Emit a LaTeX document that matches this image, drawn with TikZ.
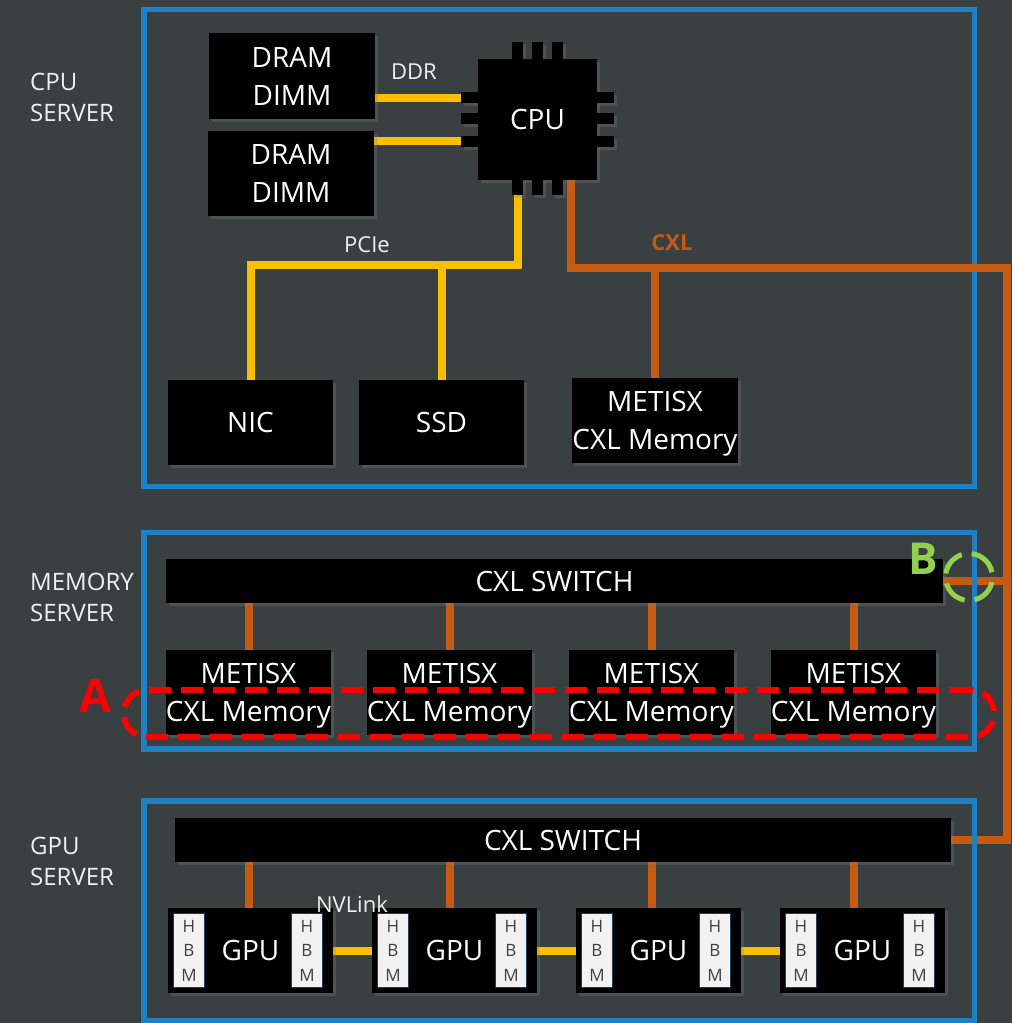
\documentclass[tikz,border=0pt]{standalone}
\usepackage{fontspec}
\setmainfont{Open Sans}
\usetikzlibrary{shadows,calc}
\pgfdeclarelayer{back}
\pgfdeclarelayer{lines}
\pgfdeclarelayer{frames}
\pgfsetlayers{back,lines,frames,main}
\definecolor{bgc}{RGB}{58,63,66}
\definecolor{frameblue}{RGB}{31,128,196}
\definecolor{ddryel}{RGB}{250,192,0}
\definecolor{cxlor}{RGB}{197,90,17}
\definecolor{bgreen}{RGB}{146,208,80}
\definecolor{hbmfill}{RGB}{242,242,242}
\definecolor{hbmedge}{RGB}{30,60,85}
\definecolor{hbmtext}{RGB}{64,64,64}
\definecolor{lbltext}{RGB}{240,240,240}
\begin{document}
\begin{tikzpicture}[x=1pt,y=-1pt,
  blk/.style={fill=black,text=white,inner sep=0,outer sep=0,align=center,
    font=\fontsize{28pt}{38pt}\selectfont,
    drop shadow={opacity=0.3,shadow xshift=3pt,shadow yshift=-3pt}},
  cpupin/.style={fill=black,drop shadow={opacity=0.3,shadow xshift=3pt,shadow yshift=-3pt}},
  cpupintop/.style={fill=black},
  srvframe/.style={draw=frameblue,line width=5.5,inner sep=0,outer sep=0,minimum width=830.5},
  hbm/.style={fill=hbmfill,draw=hbmedge,line width=1.8,minimum width=31,minimum height=74,
    inner sep=0,text=hbmtext,align=center,font=\fontsize{17pt}{24.5pt}\selectfont},
  ddr/.style={draw=ddryel,line width=8},
  cxl/.style={draw=cxlor,line width=8},
  lbl/.style={text=lbltext,font=\fontsize{24pt}{31pt}\selectfont,align=left,inner sep=0,anchor=west},
  lk/.style={text=lbltext,font=\fontsize{22pt}{26pt}\selectfont,inner sep=0},
]
\begin{pgfonlayer}{back}
\fill[bgc] (0,0) rectangle (1012,1023);
\end{pgfonlayer}
\useasboundingbox (0,0) rectangle (1012,1023);

% server frames
\begin{pgfonlayer}{back}
\node[srvframe,minimum height=477] (cpusrv) at (559.25,248) {};
\end{pgfonlayer}
\begin{pgfonlayer}{frames}
\node[srvframe,minimum height=216.5] (memsrv) at (559.25,640.75) {};
\node[srvframe,minimum height=219.5] (gpusrv) at (559.25,910.75) {};
\end{pgfonlayer}

% side labels
\node[lbl] (lcpu) at (30,97.5) {CPU\\SERVER};
\node[lbl] (lmem) at (30,597) {MEMORY\\SERVER};
\node[lbl] (lgpu) at (30,861) {GPU\\SERVER};

% CPU server contents
\node[blk,minimum width=166,minimum height=86] (d1) at (292,76) {DRAM\\DIMM};
\node[blk,minimum width=166,minimum height=85] (d2) at (291,173.5) {DRAM\\DIMM};
\foreach \x in {512,532,552} {
  \fill[cpupin] (\x,42) rectangle +(11,18);
  \fill[cpupin] (\x,179) rectangle +(11,16);
}
\foreach \y in {92,113,136} {
  \fill[cpupin] (461,\y) rectangle +(18,11);
  \fill[cpupin] (596,\y) rectangle +(18,11);
}
\node[blk,minimum width=119,minimum height=121] (cpu) at (537.5,119.5) {CPU};
\foreach \x in {512,532,552} {
  \fill[cpupintop] (\x,42) rectangle +(11,18);
  \fill[cpupintop] (\x,179) rectangle +(11,16);
}
\foreach \y in {92,113,136} {
  \fill[cpupintop] (461,\y) rectangle +(18,11);
  \fill[cpupintop] (596,\y) rectangle +(18,11);
}
\coordinate (lp1) at (461,97.5);
\coordinate (lp3) at (461,140.5);
\coordinate (bp1) at (517.5,195);
\coordinate (pj) at (517.5,265);
\coordinate (cj) at (571,267.5);
\coordinate (cr) at (1007,267.5);

\node[blk,minimum width=165,minimum height=85] (nic) at (250.5,422.5) {NIC};
\node[blk,minimum width=165,minimum height=85] (ssd) at (441.5,422.5) {SSD};
\node[blk,minimum width=166,minimum height=85] (mcpu) at (655,420.5) {METISX\\CXL Memor\smash{y}};

\node[lk] (tddr) at (414,72) {DDR};
\node[lk] (tpcie) at (367,245) {PCIe};
\node[lk,text=cxlor,font=\fontsize{22pt}{26pt}\selectfont\bfseries] (tcxl) at (672,243) {CXL};

% memory server
\node[blk,minimum width=777,minimum height=44] (msw) at (554.5,581) {CXL SWITCH};
\foreach \i/\x in {1/248.5,2/449.5,3/651.5,4/853.5}
  \node[blk,minimum width=165,minimum height=85] (m\i) at (\x,692) {METISX\\CXL Memor\smash{y}};

% GPU server
\node[blk,minimum width=776,minimum height=44] (gsw) at (563,840) {CXL SWITCH};
\foreach \i/\x in {1/250.5,2/454.5,3/658.5,4/862.5} {
  \node[blk,minimum width=165,minimum height=85] (g\i) at (\x,950.5) {GPU};
  \node[hbm] (hl\i) at ($(g\i.west)+(21,0)$) {H\\B\\M};
  \node[hbm] (hr\i) at ($(g\i.east)+(-26,0)$) {H\\B\\M};
}
\node[lk] (tnv) at (352,904) {NVLink};

% connectors
\begin{pgfonlayer}{lines}
\draw[ddr] (d1.east |- lp1) -- (lp1);
\draw[ddr] (d2.east |- lp3) -- (lp3);
\draw[ddr] (bp1) -- (pj) -| (nic.north);
\draw[ddr] (ssd.north) -- (ssd.north |- pj);
\draw[cxl] (cpu.south -| cj) -- (cj) -- (cr) |- (gsw.east);
\draw[cxl] (mcpu.north) -- (mcpu.north |- cj);
\draw[cxl] (msw.east) -- (msw.east -| cr);
\foreach \i in {1,2,3,4} {
  \draw[cxl] (m\i.north) -- (m\i.north |- msw.south);
  \draw[cxl] (m\i.north |- gsw.south) -- (m\i.north |- g\i.north);
}
\draw[ddr] (g1.east) -- (g2.west);
\draw[ddr] (g2.east) -- (g3.west);
\draw[ddr] (g3.east) -- (g4.west);
\end{pgfonlayer}

% annotations
\node[draw=red,line width=6,dash pattern=on 22pt off 10pt,rounded corners=23,
  minimum width=870,minimum height=47,inner sep=0] (ahl) at (559,713.5) {};
\node[text=red,font=\fontsize{46pt}{46pt}\selectfont\bfseries,inner sep=0] (alab) at (95,696) {A};
\node[circle,draw=bgreen,line width=5,dash pattern=on 26pt off 10pt,
  minimum size=47,inner sep=0,rotate=20] (bcirc) at (969,577) {};
\node[text=bgreen,font=\fontsize{44pt}{44pt}\selectfont\bfseries,inner sep=0] (blab) at (923,559) {B};
\end{tikzpicture}
\end{document}
